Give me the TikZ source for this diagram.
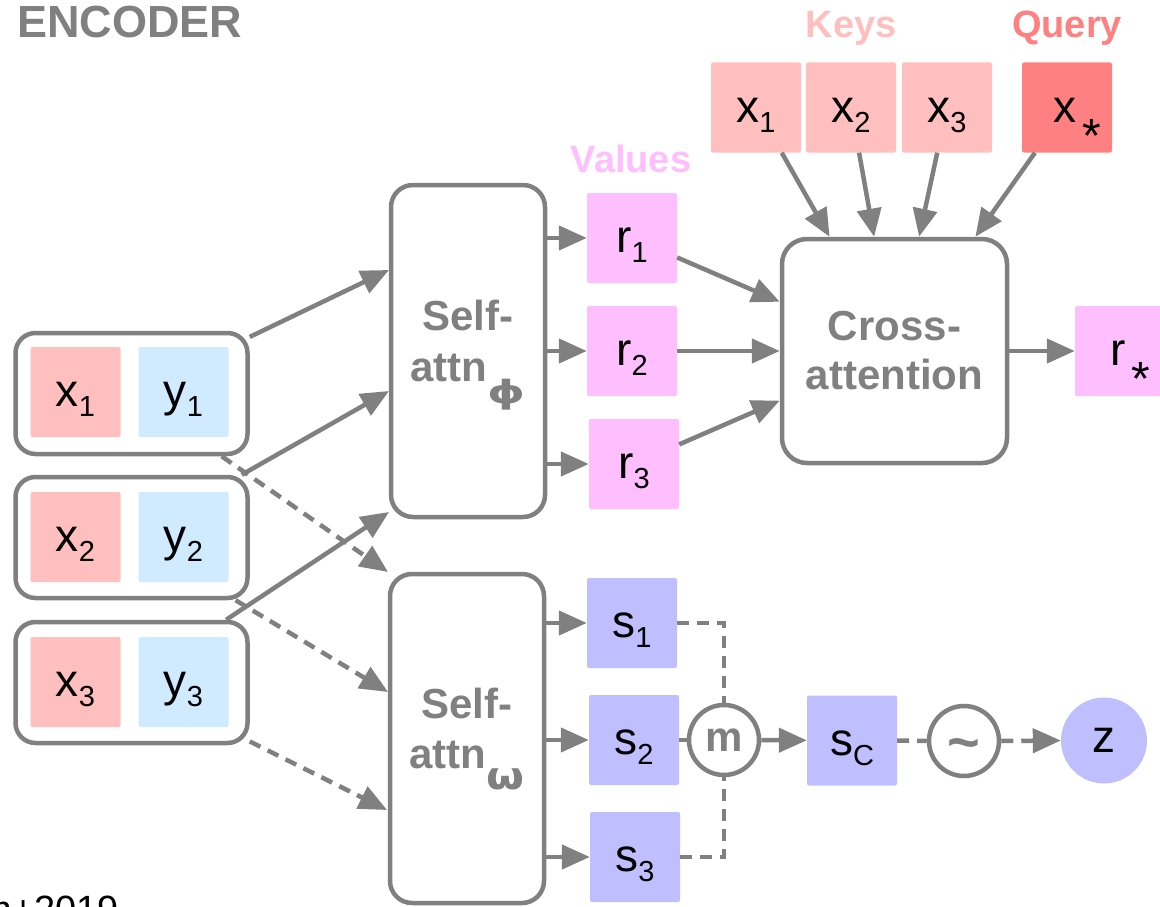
\documentclass[tikz,border=0pt]{standalone}
\usepackage{fontspec}
\setmainfont{Liberation Sans}
\newfontfamily\greekbold{DejaVu Sans}[BoldFont={DejaVu Sans Bold}]
\usetikzlibrary{arrows.meta,calc}

\definecolor{linegray}{HTML}{808080}
\definecolor{keypink}{HTML}{FFBFBF}
\definecolor{querypink}{HTML}{FF8080}
\definecolor{valpink}{HTML}{FFBFFF}
\definecolor{slav}{HTML}{BFBFFF}
\definecolor{ylight}{HTML}{D0EBFF}

% subscripts of the cell labels
\newcommand\sbs[1]{\raisebox{-10pt}{\fontsize{29}{29}\selectfont #1}}
\newcommand\starsub{\hspace{6pt}\raisebox{-30pt}{\fontsize{48}{48}\selectfont *}}
% bold greek subscripts of the self-attention blocks
\newcommand\gsub[4]{\raisebox{#1}{\scalebox{#2}[1]{\greekbold\bfseries\fontsize{#3}{#3}\selectfont #4}}}

\tikzset{
  edge/.style={draw=linegray, line width=4.5pt},
  arr/.style={edge, -{Triangle[length=28pt,width=24pt]}},
  dashline/.style={edge, dash pattern=on 12pt off 8pt},
  darr/.style={dashline, -{Triangle[length=28pt,width=24pt]}},
  pairbox/.style={draw=linegray, line width=4.5pt, rounded corners=20pt,
    minimum width=232pt, minimum height=121pt, fill=white, inner sep=0pt},
  proc/.style={draw=linegray, line width=4.5pt, rounded corners=22pt,
    fill=white, inner sep=0pt},
  cell/.style={inner sep=0pt, rounded corners=2pt, minimum width=90pt,
    minimum height=90pt, text height=29pt, text depth=0pt,
    font=\fontsize{46}{46}\selectfont},
  lbl/.style={text=linegray, font=\bfseries\fontsize{42}{42}\selectfont,
    inner sep=0pt, anchor=base},
  head/.style={font=\bfseries\fontsize{38}{38}\selectfont, inner sep=0pt,
    anchor=base},
  ring/.style={circle, draw=linegray, line width=4.5pt, minimum size=70pt,
    inner sep=0pt, fill=white},
}

\begin{document}
\begin{tikzpicture}[x=1pt,y=-1pt]
\useasboundingbox (0,0) rectangle (1160,907);
\clip (0,0) rectangle (1160,907);

% titles
\node[head, anchor=base west, text=linegray, font=\bfseries\fontsize{45}{45}\selectfont] (enc) at (17,38) {ENCODER};
\node[head, text=keypink] (keys) at (851,38) {Keys};
\node[head, text=querypink] (query) at (1067,38) {Query};
\node[head, text=valpink] (values) at (631,172) {Values};
\node[anchor=base east, inner sep=0pt, font=\fontsize{38}{38}\selectfont] (cite) at (119,922) {Kim+2019};

% context pairs
\node[pairbox] (e1) at (131.5,393.5) {};
\node[pairbox] (e2) at (131.5,537.5) {};
\node[pairbox] (e3) at (131.5,682.5) {};
\node[cell, fill=keypink] (cx1) at (75.5,392) {x\sbs{1}};
\node[cell, fill=ylight] (cy1) at (183.5,392) {y\sbs{1}};
\node[cell, fill=keypink] (cx2) at (75.5,537) {x\sbs{2}};
\node[cell, fill=ylight] (cy2) at (183.5,537) {y\sbs{2}};
\node[cell, fill=keypink] (cx3) at (75.5,682) {x\sbs{3}};
\node[cell, fill=ylight] (cy3) at (183.5,682) {y\sbs{3}};

% self-attention blocks
\node[proc, minimum width=154pt, minimum height=332pt] (phi) at (468,351) {};
\node[lbl] (phiA) at (468,330) {Self-};
\node[lbl] (phiB) at (468,381) {attn\gsub{-22pt}{1.5}{32}{ϕ}};
\node[proc, minimum width=154pt, minimum height=329pt] (om) at (467,738.5) {};
\node[lbl] (omA) at (467,718) {Self-};
\node[lbl] (omB) at (467,768) {attn\gsub{-21pt}{1.15}{38}{ω}};

% values
\node[cell, fill=valpink] (r1) at (632,238) {r\sbs{1}};
\node[cell, fill=valpink] (r2) at (632,351) {r\sbs{2}};
\node[cell, fill=valpink] (r3) at (634,464) {r\sbs{3}};

% latent path
\node[cell, fill=slav] (s1) at (632,623) {s\sbs{1}};
\node[cell, fill=slav] (s2) at (634,740) {s\sbs{2}};
\node[cell, fill=slav] (s3) at (635,857) {s\sbs{3}};
\node[ring, font=\bfseries\fontsize{42}{42}\selectfont, text=linegray] (m) at (724,740) {m};
\node[cell, fill=slav] (sc) at (852,740.5) {s\sbs{C}};
\node[ring] (samp) at (964,741) {};
\node[lbl, font=\bfseries\fontsize{56}{56}\selectfont] (tl) at (964,761) {\textasciitilde};
\node[circle, fill=slav, minimum size=86pt, inner sep=0pt, font=\fontsize{46}{46}\selectfont] (z) at (1104,740.5) {z};

% keys, query, cross-attention
\node[cell, fill=keypink] (k1) at (756,107.5) {x\sbs{1}};
\node[cell, fill=keypink] (k2) at (851,107.5) {x\sbs{2}};
\node[cell, fill=keypink] (k3) at (947,107.5) {x\sbs{3}};
\node[cell, fill=querypink] (q) at (1067,107.5) {\hspace{20pt}x\starsub};
\node[proc, rounded corners=25pt, minimum width=225pt, minimum height=224pt] (cross) at (894.5,351) {};
\node[lbl] (crA) at (894.5,340) {Cross-};
\node[lbl] (crB) at (894.5,389) {attention};
\node[cell, fill=valpink] (rs) at (1120,351) {\hspace{20pt}r\starsub};

% entry points on the self-attention blocks
\coordinate (pa) at (389,270);
\coordinate (pb) at (389,391);
\coordinate (pc) at (389,512);
\coordinate (oa) at (388,572);
\coordinate (ob) at (388,692);
\coordinate (oc) at (387,810);

% encoder to deterministic path
\draw[arr] (e1) -- (pa);
\draw[arr] (e2) -- (pb);
\draw[arr] (e3) -- (pc);
% encoder to latent path
\draw[darr] (e1) -- (oa);
\draw[darr] (e2) -- (ob);
\draw[darr] (e3) -- (oc);

% self-attention outputs
\draw[arr] (phi.east |- r1) -- (r1.west);
\draw[arr] (phi.east |- r2) -- (r2.west);
\draw[arr] (phi.east |- r3) -- (r3.west);
\draw[arr] (om.east |- s1) -- (s1.west);
\draw[arr] (om.east |- s2) -- (s2.west);
\draw[arr] (om.east |- s3) -- (s3.west);

% values, keys and query into the cross-attention
\draw[arr] (r1) -- (cross);
\draw[arr] (r2) -- (cross);
\draw[arr] (r3) -- (cross);
\draw[arr] (k1) -- (cross);
\draw[arr] (k2) -- (cross);
\draw[arr] (k3) -- (cross);
\draw[arr] (q) -- (cross);
\draw[arr] (cross) -- (rs);

% mean, then sampling of z
\draw[dashline] (s1.east) -| (m.north);
\draw[dashline] (s3.east) -| (m.south);
\draw[edge] (s2.east) -- (m.west);
\draw[arr] (m) -- (sc);
\draw[dashline] (sc.east) -- (samp.west);
\draw[darr] (samp.east) -- (z.west);
\end{tikzpicture}
\end{document}
